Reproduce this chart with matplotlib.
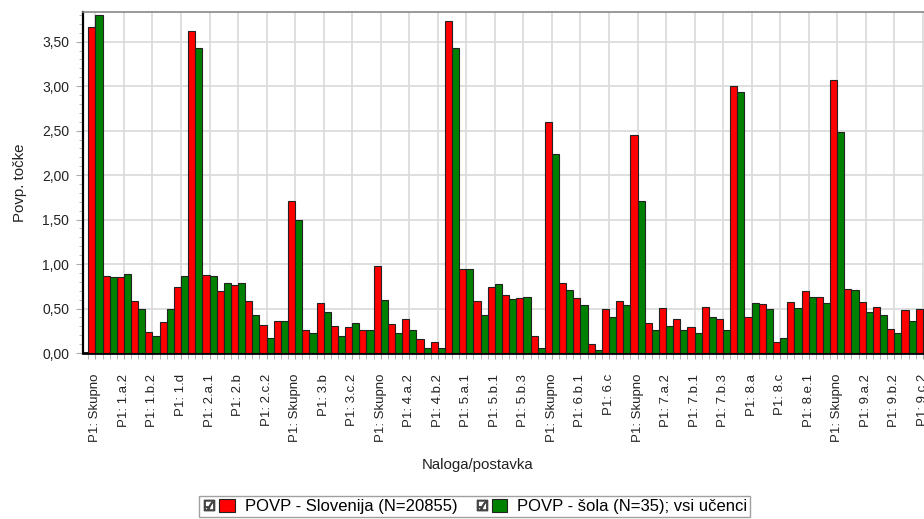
import numpy as np
import matplotlib
matplotlib.use("Agg")
import matplotlib.pyplot as plt
from matplotlib.ticker import MultipleLocator, FuncFormatter
from matplotlib.lines import Line2D
from matplotlib.patches import Patch
from matplotlib.legend_handler import HandlerTuple

plt.rcParams['font.family'] = ['Liberation Sans', 'DejaVu Sans']

# --- Data ---
tick_labels = ["P1: Skupno", "P1: 1.a.2", "P1: 1.b.2", "P1: 1.d", "P1: 2.a.1",
               "P1: 2.b", "P1: 2.c.2", "P1: Skupno", "P1: 3.b", "P1: 3.c.2",
               "P1: Skupno", "P1: 4.a.2", "P1: 4.b.2", "P1: 5.a.1", "P1: 5.b.1",
               "P1: 5.b.3", "P1: Skupno", "P1: 6.b.1", "P1: 6.c", "P1: Skupno",
               "P1: 7.a.2", "P1: 7.b.1", "P1: 7.b.3", "P1: 8.a", "P1: 8.c",
               "P1: 8.e.1", "P1: Skupno", "P1: 9.a.2", "P1: 9.b.2", "P1: 9.c.2"]

slovenija = [3.66, 0.87, 0.86, 0.585, 0.24, 0.345, 0.746, 3.625, 0.874, 0.697,
             0.765, 0.585, 0.32, 0.364, 1.713, 0.26, 0.566, 0.307, 0.296, 0.259,
             0.979, 0.322, 0.379, 0.157, 0.127, 3.73, 0.94, 0.585, 0.739, 0.649,
             0.619, 0.19, 2.60, 0.79, 0.619, 0.101, 0.49, 0.585, 2.45, 0.341,
             0.506, 0.379, 0.296, 0.521, 0.379, 3.003, 0.41, 0.551, 0.127, 0.574,
             0.70, 0.634, 3.07, 0.724, 0.574, 0.517, 0.27, 0.484, 0.495]

sola = [3.80, 0.86, 0.885, 0.50, 0.19, 0.495, 0.863, 3.43, 0.863, 0.79,
        0.79, 0.427, 0.17, 0.364, 1.49, 0.228, 0.461, 0.19, 0.341, 0.259,
        0.596, 0.228, 0.259, 0.056, 0.056, 3.43, 0.94, 0.427, 0.773, 0.604,
        0.634, 0.056, 2.235, 0.709, 0.543, 0.034, 0.40, 0.543, 1.713, 0.259,
        0.307, 0.259, 0.228, 0.40, 0.259, 2.936, 0.566, 0.49, 0.17, 0.506,
        0.634, 0.566, 2.486, 0.709, 0.461, 0.427, 0.228, 0.364, 0.285]

x = np.arange(len(slovenija))

# --- Plot ---
fig = plt.figure(figsize=(9.24, 5.19), dpi=100)
ax = fig.add_axes([0.0898, 0.3198, 0.9398, 0.6565])

ax.bar(x - 0.25, slovenija, width=0.5, color='#ff0000', edgecolor='#222222',
       linewidth=0.8, zorder=3)
ax.bar(x + 0.25, sola, width=0.5, color='#008000', edgecolor='#222222',
       linewidth=0.8, zorder=3)

ax.set_xlim(-0.872, 60.0)
ax.set_ylim(0, 3.83)

ax.set_xticks(x[::2])
ax.set_xticklabels(tick_labels, rotation=90, fontsize=9.5, color='#222222')
ax.xaxis.set_minor_locator(MultipleLocator(0.5))
ax.tick_params(axis='x', which='major', length=4, color='#aaaaaa', pad=11)
ax.tick_params(axis='x', which='minor', length=4, color='#aaaaaa')

ax.yaxis.set_major_locator(MultipleLocator(0.5))
ax.yaxis.set_minor_locator(MultipleLocator(0.1))
ax.yaxis.set_major_formatter(FuncFormatter(lambda v, p: f"{v:.2f}".replace('.', ',')))
ax.tick_params(axis='y', which='major', length=5, color='#aaaaaa', labelsize=10,
               labelcolor='#222222', pad=5)
ax.tick_params(axis='y', which='minor', length=3, color='#aaaaaa')

ax.grid(True, which='major', color='#d9d9d9', linewidth=1.2, zorder=0)
ax.set_axisbelow(True)

ax.spines['left'].set_linewidth(1.6)
ax.spines['left'].set_color('black')
ax.spines['bottom'].set_linewidth(2)
ax.spines['bottom'].set_color('black')
ax.spines['top'].set_color('#888888')
ax.spines['top'].set_linewidth(1.2)
ax.spines['right'].set_visible(False)

fig.text(0.022, 0.647, "Povp. točke", rotation=90, ha='center', va='center',
         fontsize=10.8, color='#222222')
fig.text(0.517, 0.104, "Naloga/postavka", ha='center', va='center',
         fontsize=10.8, color='#222222')

# --- Legend ---
check = Line2D([], [], marker='$\u2611$', linestyle='none', color='#444444',
               markersize=7.5)
red_patch = Patch(facecolor='#ff0000', edgecolor='#222222', linewidth=0.8)
green_patch = Patch(facecolor='#008000', edgecolor='#222222', linewidth=0.8)
leg = fig.legend([(check, red_patch), (check, green_patch)],
                 ["POVP - Slovenija (N=20855)", "POVP - šola (N=35); vsi učenci"],
                 handler_map={tuple: HandlerTuple(ndivide=None, pad=0.15)},
                 loc='center', bbox_to_anchor=(0.5135, 0.024), ncol=2,
                 fontsize=12, frameon=True, fancybox=False, handlelength=2.0,
                 handletextpad=0.6, columnspacing=1.0, borderpad=0.15,
                 borderaxespad=0, handleheight=0.8)
leg.get_frame().set_edgecolor('#888888')
leg.get_frame().set_linewidth(1)

fig.savefig("out.png", dpi=100)
